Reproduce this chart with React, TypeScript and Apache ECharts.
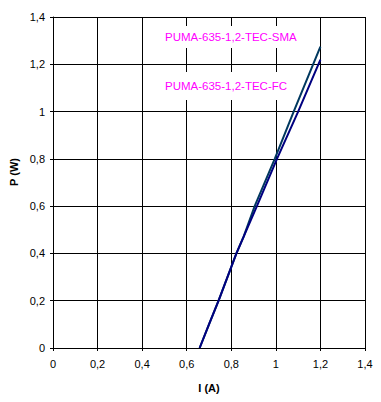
import React, { useEffect, useRef } from "react";
import * as echarts from "echarts";

const smaCurrent = [0.658, 0.70, 0.743, 0.823, 0.855, 0.905, 0.995, 1.08, 1.2];
const smaPower = [0, 0.1, 0.2, 0.4, 0.47, 0.6, 0.8, 1.0, 1.275];
const fcCurrent = [0.658, 0.70, 0.743, 0.823, 0.915, 1.005, 1.10, 1.2];
const fcPower = [0, 0.1, 0.2, 0.4, 0.6, 0.8, 1.0, 1.22];
const seriesNames = ["PUMA-635-1,2-TEC-SMA", "PUMA-635-1,2-TEC-FC"];

const fmt = (v: number) => String(Math.round(v * 10) / 10).replace(".", ",");

export default function App() {
  const ref = useRef<HTMLDivElement>(null);
  useEffect(() => {
    if (!ref.current) return;
    const chart = echarts.init(ref.current, null, { renderer: "svg" });
    const font = "Liberation Sans, Arial, sans-serif";
    const axisCommon = {
      type: "value" as const,
      min: 0,
      max: 1.4,
      interval: 0.2,
      axisLine: { show: true, lineStyle: { color: "#000", width: 1 } },
      axisTick: { show: true, inside: false, length: 3, lineStyle: { color: "#000" } },
      splitLine: { show: true, lineStyle: { color: "#000", width: 1 } },
      axisLabel: { color: "#000", fontSize: 11, fontFamily: font, formatter: fmt },
    };
    chart.setOption({
      animation: false,
      backgroundColor: "#fff",
      grid: { left: 53, right: 16, top: 17, bottom: 54, containLabel: false },
      xAxis: {
        ...axisCommon,
        axisLabel: { ...axisCommon.axisLabel, margin: 10 },
        name: "I (A)",
        nameLocation: "middle",
        nameGap: 34,
        nameTextStyle: { color: "#000", fontSize: 11, fontWeight: "bold", fontFamily: font },
      },
      yAxis: {
        ...axisCommon,
        axisLabel: { ...axisCommon.axisLabel, margin: 8 },
      },
      graphic: [
        {
          type: "text",
          x: 14,
          y: 172,
          rotation: Math.PI / 2,
          style: {
            text: "P (W)",
            fill: "#000",
            font: `bold 11px ${font}`,
            align: "center",
            verticalAlign: "middle",
          },
        },
        {
          type: "text",
          x: 163,
          y: 37,
          z: 10,
          style: {
            text: seriesNames[0],
            fill: "#ff00ff",
            font: `11.5px ${font}`,
            verticalAlign: "middle",
            backgroundColor: "#fff",
            padding: [5, 2, 5, 2],
          },
        },
        {
          type: "text",
          x: 163,
          y: 86,
          z: 10,
          style: {
            text: seriesNames[1],
            fill: "#ff00ff",
            font: `11.5px ${font}`,
            verticalAlign: "middle",
            backgroundColor: "#fff",
            padding: [8, 2, 8, 2],
          },
        },
      ],
      series: [
        {
          name: seriesNames[0],
          type: "line",
          data: smaCurrent.map((x, i) => [x, smaPower[i]]),
          showSymbol: false,
          lineStyle: { color: "#00385f", width: 2 },
          itemStyle: { color: "#00385f" },
        },
        {
          name: seriesNames[1],
          type: "line",
          data: fcCurrent.map((x, i) => [x, fcPower[i]]),
          showSymbol: false,
          lineStyle: { color: "#000080", width: 2 },
          itemStyle: { color: "#000080" },
        },
      ],
    });
    return () => chart.dispose();
  }, []);
  return <div ref={ref} style={{ width: 381, height: 402, position: "absolute", left: 0, top: 0 }} />;
}
